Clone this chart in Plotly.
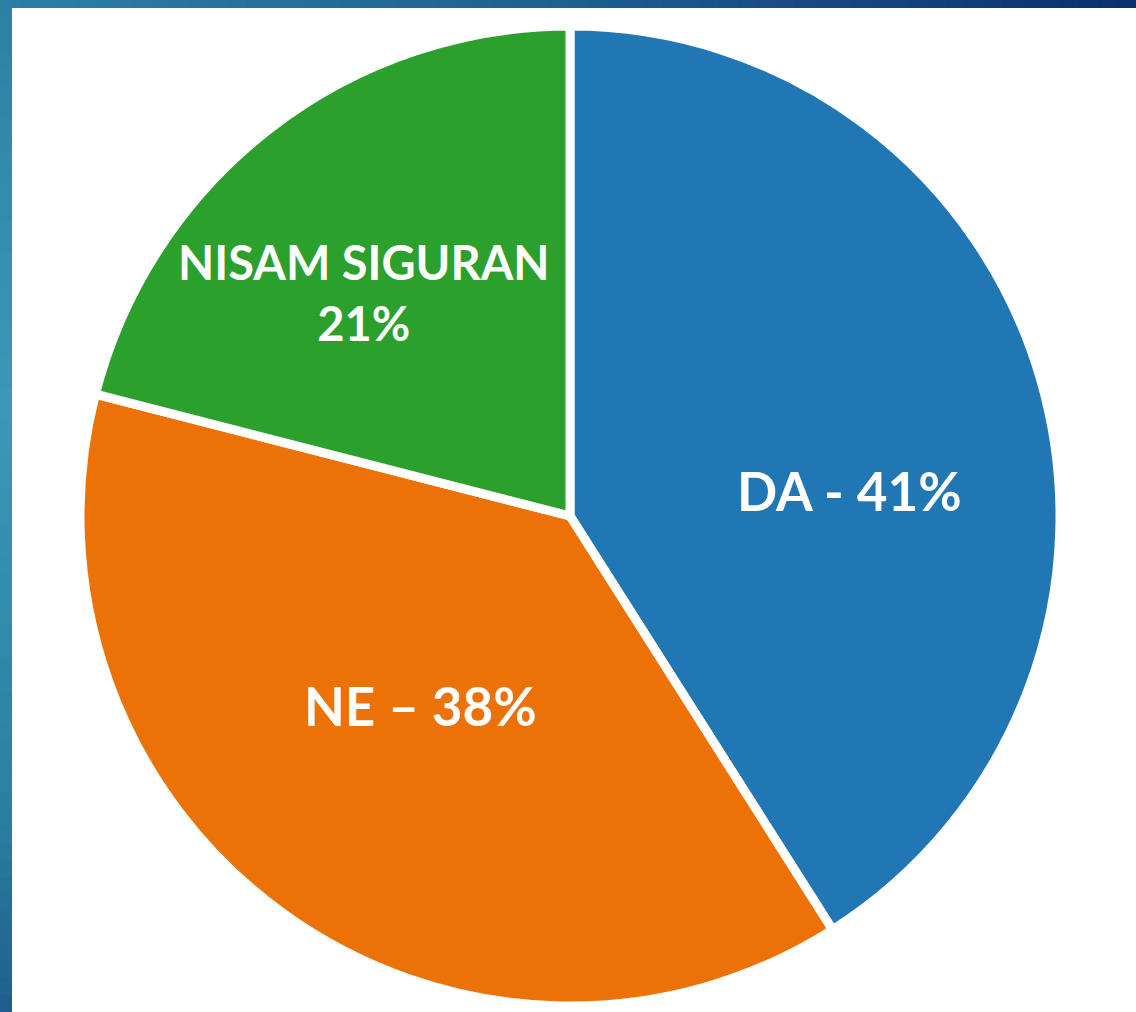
import plotly.graph_objects as go

# ---- data ----
labels = ["DA", "NE", "NISAM SIGURAN"]
values = [41, 38, 21]
separators = [" - ", " – ", "<br>"]
colors = ["#2077b4", "#ec7207", "#2ca02c"]

W, H = 1136, 1012

fig = go.Figure()
cx, cy, r = 570, 516, 490
fig.add_trace(go.Pie(
    labels=labels,
    values=values,
    sort=False,
    direction="clockwise",
    rotation=0,
    marker=dict(colors=colors, line=dict(color="white", width=9)),
    textinfo="none",
    hoverinfo="label+percent",
    showlegend=False,
    domain=dict(x=[(cx - r) / W, (cx + r) / W],
                y=[(H - cy - r) / H, (H - cy + r) / H]),
))

# label positions (pixel centres) and sizes
label_pos = [(850, 490), (420, 705), (364, 292)]
label_size = [53, 53, 47]
for lab, val, sep, (px, py), fs in zip(labels, values, separators, label_pos, label_size):
    fig.add_annotation(
        x=px / W, y=1 - py / H, xref="paper", yref="paper",
        text=f"<b>{lab}{sep}{val}%</b>", showarrow=False,
        xanchor="center", yanchor="middle", align="center",
        font=dict(family="Lato, 'Open Sans', sans-serif", size=fs, color="white"),
    )

# decorative gradient frame (top and left bars)
def lerp(c1, c2, t):
    a = [int(c1[i:i + 2], 16) for i in (1, 3, 5)]
    b = [int(c2[i:i + 2], 16) for i in (1, 3, 5)]
    return "#%02x%02x%02x" % tuple(round(a[k] + (b[k] - a[k]) * t) for k in range(3))

shapes = []
n = 60
top_stops = [(0.0, "#2c80a4"), (0.5, "#1e5f90"), (1.0, "#0a2f6e")]
left_stops = [(0.0, "#2c80a4"), (0.4, "#3a98b8"), (0.8, "#2a80a0"), (1.0, "#1f5e8e")]

def grad(stops, t):
    for (t0, c0), (t1, c1) in zip(stops[:-1], stops[1:]):
        if t <= t1:
            return lerp(c0, c1, (t - t0) / (t1 - t0))
    return stops[-1][1]

for i in range(n):
    t0, t1 = i / n, (i + 1) / n
    shapes.append(dict(type="rect", xref="paper", yref="paper",
                       x0=t0, x1=t1 + 0.001, y0=1 - 8 / H, y1=1,
                       fillcolor=grad(top_stops, (t0 + t1) / 2), line=dict(width=0)))
    shapes.append(dict(type="rect", xref="paper", yref="paper",
                       x0=0, x1=12 / W, y0=1 - t1 - 0.001, y1=1 - t0,
                       fillcolor=grad(left_stops, (t0 + t1) / 2), line=dict(width=0)))

fig.update_layout(
    width=W, height=H,
    margin=dict(l=0, r=0, t=0, b=0),
    paper_bgcolor="white",
    plot_bgcolor="white",
    shapes=shapes,
)

fig.write_html("out.html",
               config={"displayModeBar": False},
               post_script="document.body.style.margin='0px';document.body.style.overflow='hidden';")
